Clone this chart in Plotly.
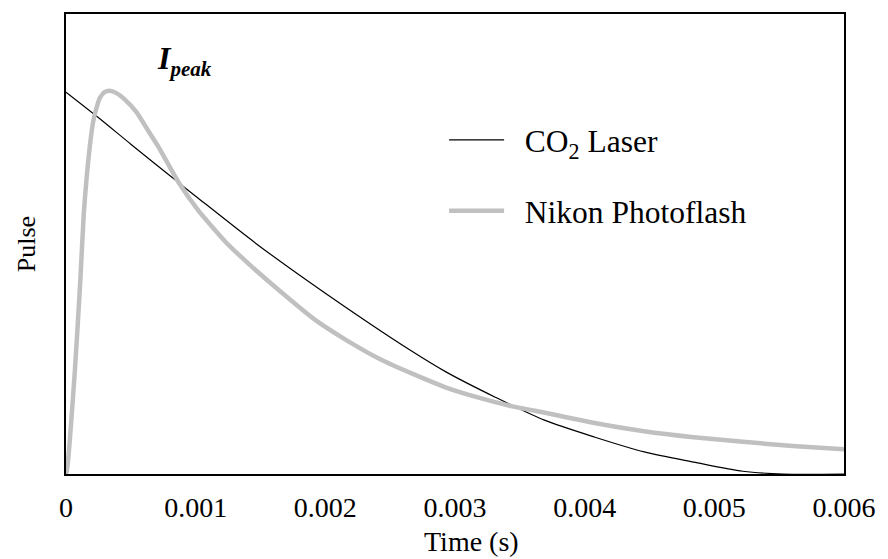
import plotly.graph_objects as go

# --- data ---
co2_time = [0, 0.000244, 0.0005, 0.00087, 0.001, 0.00148, 0.002, 0.00265, 0.00293,
            0.00331, 0.00369, 0.00408, 0.00446, 0.00484, 0.00522, 0.00553, 0.006]
co2_pulse = [0.830, 0.776, 0.717, 0.633, 0.604, 0.498, 0.393, 0.270, 0.222,
             0.167, 0.117, 0.080, 0.048, 0.026, 0.006, 0.0, 0.0]

nikon_time = [0, 0.0000076, 0.0000687, 0.0001107, 0.0001374, 0.0001832, 0.0002137,
              0.0002595, 0.0002977, 0.0003359, 0.0003893, 0.0004504, 0.0005420,
              0.0006412, 0.0007176, 0.0008702, 0.0010229, 0.0012290, 0.0014046,
              0.0016565, 0.0019160, 0.0021679, 0.0024198, 0.0026794, 0.0029313,
              0.0031832, 0.0034427, 0.0036947, 0.0040763, 0.0044580, 0.0048397,
              0.0052214, 0.0056031, 0.006]
nikon_pulse = [0, 0.0087, 0.226, 0.422, 0.567, 0.711, 0.772,
               0.817, 0.830, 0.833, 0.828, 0.815, 0.787,
               0.743, 0.709, 0.633, 0.572, 0.505, 0.458,
               0.396, 0.336, 0.290, 0.250, 0.217, 0.188,
               0.166, 0.147, 0.133, 0.111, 0.093, 0.080,
               0.070, 0.061, 0.054]

x_tickvals = [0, 0.001, 0.002, 0.003, 0.004, 0.005, 0.006]
x_ticktext = ["0", "0.001", "0.002", "0.003", "0.004", "0.005", "0.006"]

FONT = "Liberation Serif"
NB = "\u00a0\u00a0"

fig = go.Figure()
fig.add_trace(go.Scatter(
    x=co2_time, y=co2_pulse, mode="lines", name=NB + "CO<sub>2</sub> Laser",
    line=dict(color="black", width=1.2, shape="spline", smoothing=0.8),
    legendgroup="a"))
fig.add_trace(go.Scatter(
    x=nikon_time, y=nikon_pulse, mode="lines", name=NB + "Nikon Photoflash",
    line=dict(color="#c0c0c0", width=4.5, shape="spline", smoothing=0.5),
    legendgroup="b"))

fig.add_annotation(
    x=0.000687, y=0.90, xref="x", yref="y", xanchor="left", yanchor="middle",
    text="<b><i>I</i></b><sub><b><i><span style='font-size:21px'>peak</span></i></b></sub>",
    showarrow=False,
    font=dict(family=FONT, size=32, color="black"))

fig.add_annotation(
    x=0.5216, y=-0.146, xref="paper", yref="paper", xanchor="center", yanchor="middle",
    text="Time (s)", showarrow=False,
    font=dict(family=FONT, size=28, color="black"))

fig.update_layout(
    width=888, height=559,
    margin=dict(l=66, r=36, t=14, b=85),
    paper_bgcolor="white", plot_bgcolor="white",
    font=dict(family=FONT, size=28, color="black"),
    showlegend=True,
    legend=dict(x=0.486, y=0.785, xanchor="left", yanchor="top",
                font=dict(family=FONT, size=31.5, color="black"),
                bgcolor="rgba(0,0,0,0)", itemwidth=55,
                tracegroupgap=27, traceorder="grouped"),
    xaxis=dict(range=[0, 0.006], tickvals=x_tickvals, ticktext=x_ticktext,
               showline=True, mirror=True, linecolor="black", linewidth=2,
               showgrid=False, zeroline=False, ticks="", ticklabelstandoff=7,
               tickfont=dict(family=FONT, size=28, color="black")),
    yaxis=dict(range=[0, 1], showticklabels=False, ticks="",
               showline=True, mirror=True, linecolor="black", linewidth=2,
               showgrid=False, zeroline=False,
               title=dict(text="Pulse", standoff=21,
                          font=dict(family=FONT, size=26, color="black"))),
)

fig.write_html("out.html")
